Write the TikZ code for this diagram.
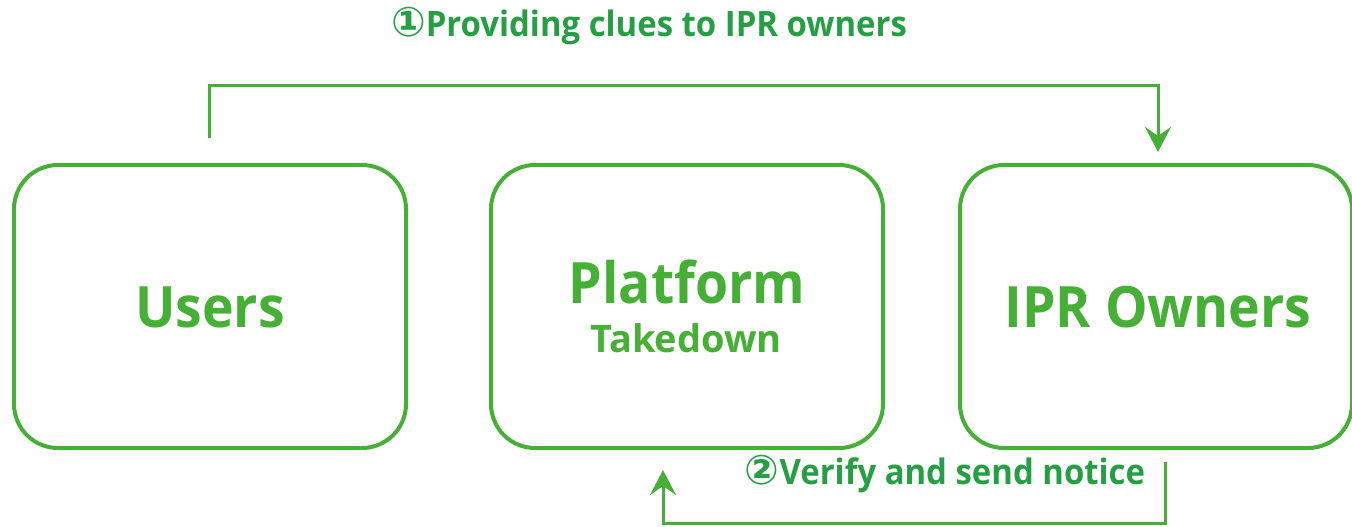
\documentclass[tikz,border=0pt]{standalone}
\usepackage{fontspec}
\setmainfont{Open Sans}
\newfontfamily\narrowfont{Open Sans}[FakeStretch=0.94]
\newfontfamily\circfont{DejaVu Sans}
\usetikzlibrary{arrows.meta}
\definecolor{boxgreen}{RGB}{69,176,53}
\definecolor{labgreen}{RGB}{38,158,68}
\begin{document}
\begin{tikzpicture}[x=1pt,y=-1pt,
 box/.style={draw=boxgreen,line width=4pt,rounded corners=44pt,minimum width=392pt,minimum height=283pt,inner sep=0pt},
 conn/.style={draw=boxgreen,line width=3pt,-{Stealth[length=25pt,width=26pt,inset=9pt]}},
 big/.style={text=boxgreen,font=\narrowfont\fontsize{57}{60}\selectfont\bfseries,inner sep=0pt,anchor=base},
 small/.style={text=boxgreen,font=\fontsize{38}{40}\selectfont\bfseries,inner sep=0pt,anchor=base},
 lab/.style={text=labgreen,font=\narrowfont\fontsize{35}{40}\selectfont\bfseries,inner sep=0pt,anchor=base}]
\useasboundingbox (0,0) rectangle (1352,527);
\node[box] (users) at (210,306.5) {};
\node[box] (platform) at (687,306.5) {};
\node[box] (ipr) at (1156,306.5) {};
\node[big] (usersT) at (210,327) {Users};
\node[big] (platT) at (687,303) {Platform};
\node[small] (takeT) at (686,352) {Takedown};
\node[big] (iprT) at (1158,327) {IPR Owners};
\node[lab] (lab1) at (649,37) {{\circfont\fontsize{41}{40}\selectfont ①}Providing clues to IPR owners};
\node[lab] (lab2) at (945,484) {{\circfont\fontsize{41}{40}\selectfont ②}Verify and send notice};
\coordinate (s1) at (209,138);
\coordinate (t1) at (1158,152);
\coordinate (s2) at (1165,462);
\coordinate (t2) at (663,470);
\draw[conn] (s1) |- (t1 |- 0,85) -- (t1);
\draw[conn] (s2) |- (t2 |- 0,523) -- (t2);
\end{tikzpicture}
\end{document}
